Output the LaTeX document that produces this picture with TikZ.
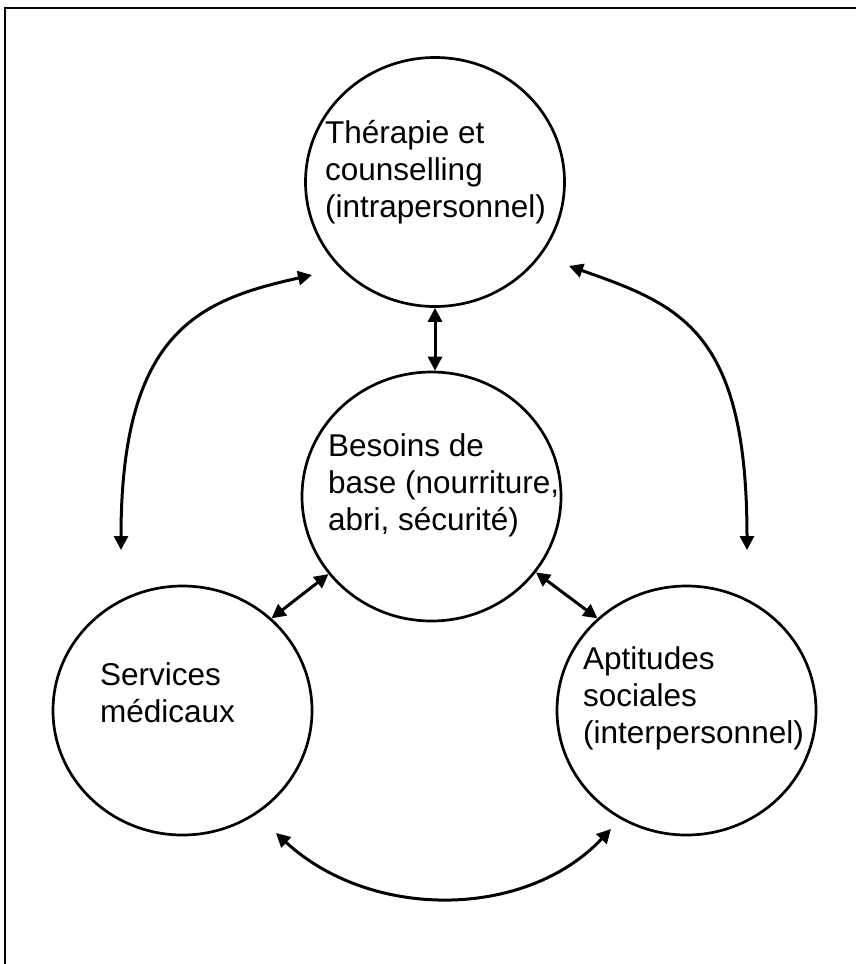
\documentclass[tikz,border=0pt]{standalone}
\usepackage{fontspec}
\setmainfont{Liberation Sans}
\usetikzlibrary{arrows.meta,shapes.geometric}
\begin{document}
\begin{tikzpicture}[x=1pt,y=-1pt,
  bubble/.style={draw, ellipse, line width=2.7pt, minimum width=259pt, minimum height=249pt, inner sep=0pt},
  lbl/.style={anchor=base west, align=left, inner sep=0pt, font=\fontsize{31.5}{37}\selectfont},
  link/.style={line width=3pt, {Triangle[length=14pt,width=14pt]}-{Triangle[length=14pt,width=14pt]}},
]
\useasboundingbox (0,0) rectangle (856,964);
\draw[line width=2.2pt] (5,970) -- (5,8) -- (862,8);

\node[bubble] (top) at (435,182) {};
\node[bubble] (mid) at (431.5,496.5) {};
\node[bubble] (left) at (182.5,710.5) {};
\node[bubble] (right) at (686.5,710.5) {};

\node[lbl] (ttop) at (325,217) {Thérapie et\\counselling\\(intrapersonnel)};
\node[lbl] (tmid) at (328,530) {Besoins de\\base (nourriture,\\abri, sécurité)};
\node[lbl] (tleft) at (100,722) {Services\\médicaux};
\node[lbl] (tright) at (583,743) {Aptitudes\\sociales\\(interpersonnel)};

\draw[link] (top.south) -- (top.south |- mid.north);
\draw[link] (mid.217) -- (left.46);
\draw[link] (mid.-36) -- (right.134);

\coordinate (a1) at (121,550);
\coordinate (a2) at (312,275);
\draw[link] (a1) .. controls (121,330) and (200,300) .. (a2);
\coordinate (b1) at (747,550);
\coordinate (b2) at (569,266);
\draw[link] (b1) .. controls (747,330) and (680,305) .. (b2);
\coordinate (c1) at (276,833);
\coordinate (c2) at (611,829);
\draw[link] (c1) .. controls (370,920) and (525,920) .. (c2);
\end{tikzpicture}
\end{document}
